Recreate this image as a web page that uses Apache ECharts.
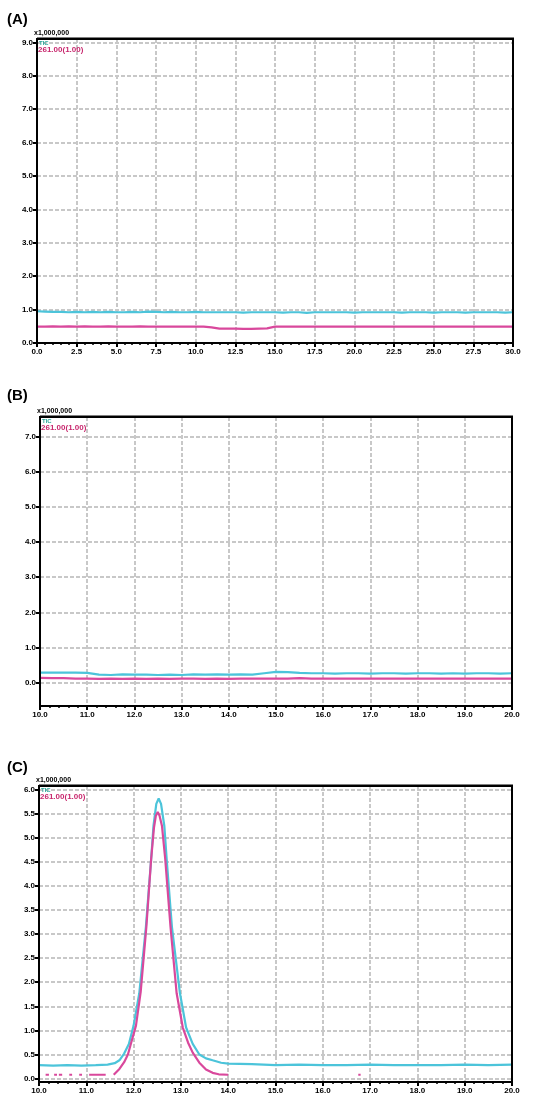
<!DOCTYPE html>
<html><head><meta charset="utf-8">
<script src="https://cdn.jsdelivr.net/npm/echarts@6/dist/echarts.min.js"></script>
<style>html,body{margin:0;padding:0;background:#fff}#c{width:543px;height:1099px}</style>
</head><body><div id="c"></div>
<script>
// ---------- Panel A ----------
const aTime = [0,0.5,1,1.5,2,2.5,3,3.5,4,4.5,5,5.5,6,6.5,7,7.5,8,8.5,9,9.5,10,10.5,11,11.5,12,12.5,13,13.5,14,14.5,15,15.5,16,16.5,17,17.5,18,18.5,19,19.5,20,20.5,21,21.5,22,22.5,23,23.5,24,24.5,25,25.5,26,26.5,27,27.5,28,28.5,29,29.5,30];
const aCyan = [0.95,0.94,0.93,0.93,0.92,0.93,0.92,0.93,0.92,0.93,0.92,0.92,0.93,0.92,0.94,0.93,0.92,0.93,0.92,0.92,0.93,0.92,0.92,0.92,0.92,0.92,0.91,0.92,0.92,0.92,0.92,0.91,0.92,0.92,0.90,0.92,0.92,0.92,0.92,0.92,0.91,0.92,0.92,0.92,0.92,0.92,0.91,0.92,0.92,0.92,0.91,0.92,0.92,0.92,0.91,0.92,0.92,0.92,0.92,0.91,0.92];
const aPink = [0.49,0.49,0.50,0.49,0.50,0.49,0.50,0.49,0.49,0.50,0.49,0.49,0.49,0.50,0.49,0.49,0.49,0.49,0.49,0.49,0.49,0.49,0.47,0.43,0.43,0.43,0.42,0.42,0.43,0.44,0.49,0.49,0.49,0.49,0.49,0.49,0.49,0.49,0.49,0.49,0.49,0.49,0.49,0.49,0.49,0.49,0.49,0.49,0.49,0.49,0.49,0.49,0.49,0.49,0.49,0.49,0.49,0.49,0.49,0.49,0.49];
const aYTicks = [0,1,2,3,4,5,6,7,8,9];

// ---------- Panel B ----------
const bTime = [10,10.25,10.5,10.75,11,11.25,11.5,11.75,12,12.25,12.5,12.75,13,13.25,13.5,13.75,14,14.25,14.5,14.75,15,15.25,15.5,15.75,16,16.25,16.5,16.75,17,17.25,17.5,17.75,18,18.25,18.5,18.75,19,19.25,19.5,19.75,20];
const bCyan = [0.29,0.29,0.29,0.29,0.28,0.23,0.22,0.24,0.23,0.23,0.22,0.23,0.22,0.24,0.23,0.24,0.23,0.24,0.23,0.27,0.31,0.30,0.28,0.27,0.27,0.26,0.27,0.27,0.26,0.27,0.27,0.26,0.27,0.27,0.26,0.27,0.26,0.27,0.27,0.26,0.27];
const bPink = [0.14,0.13,0.13,0.12,0.12,0.11,0.12,0.11,0.12,0.11,0.12,0.11,0.12,0.12,0.11,0.12,0.11,0.12,0.12,0.12,0.12,0.12,0.13,0.12,0.12,0.12,0.12,0.12,0.12,0.12,0.12,0.12,0.12,0.12,0.12,0.12,0.12,0.12,0.12,0.12,0.12];
const bYTicks = [0,1,2,3,4,5,6,7];

// ---------- Panel C ----------
const cCyanTime = [10.0,10.3,10.6,10.9,11.2,11.45,11.6,11.7,11.8,11.9,12.0,12.12,12.26,12.37,12.42,12.48,12.53,12.58,12.65,12.7,12.81,12.98,13.11,13.25,13.39,13.53,13.67,13.85,14.0,14.5,15.0,15.5,16.0,16.5,17.0,17.5,18.0,18.5,19.0,19.5,20.0];
const cCyan = [0.28,0.27,0.28,0.27,0.28,0.29,0.32,0.38,0.52,0.72,1.1,1.77,3.15,4.54,5.24,5.7,5.81,5.7,5.24,4.54,3.15,1.77,1.06,0.72,0.50,0.42,0.38,0.33,0.31,0.30,0.28,0.29,0.28,0.28,0.29,0.28,0.28,0.28,0.29,0.28,0.29];
const cPinkTime = [10.14,10.21,10.22,10.32,10.38,10.39,10.42,10.49,10.5,10.64,10.7,10.71,10.85,10.91,10.92,11.06,11.41,11.42,11.58,11.7,11.8,11.88,11.95,12.05,12.15,12.27,12.37,12.43,12.47,12.51,12.55,12.6,12.67,12.78,12.91,13.04,13.15,13.25,13.39,13.53,13.67,13.8,14.0,14.01,16.75,16.8];
const cPink = [0.08,0.08,null,0.08,0.08,null,0.08,0.08,null,0.08,0.08,null,0.08,0.08,null,0.08,0.08,null,0.08,0.2,0.34,0.5,0.75,1.1,1.8,3.15,4.54,5.2,5.45,5.53,5.45,5.24,4.54,3.15,1.77,1.06,0.75,0.54,0.33,0.19,0.12,0.09,0.08,null,0.08,0.08];
const cYTicks = [0,0.5,1,1.5,2,2.5,3,3.5,4,4.5,5,5.5,6];

const panelTitles = ['(A)','(B)','(C)'];
const scaleLabel = 'x1,000,000';
const legendNames = ['TIC','261.00(1.00)'];

const CYAN = '#4cc4da', PINK = '#d9489c';
const pairs = (xs, ys) => xs.map((x,i)=>[x, ys[i]]);

const W = 543, H = 1099;
const grids = [
  {left:37, right:30, top:39, bottom:756},
  {left:40, right:31, top:417, bottom:393},
  {left:39, right:31, top:786, bottom:17}
];
const xCfg = [
  {min:0, max:30, interval:2.5},
  {min:10, max:20, interval:1},
  {min:10, max:20, interval:1}
];
const yCfg = [
  {min:0, max:9.1, ticks:aYTicks},
  {min:-0.66, max:7.55, ticks:bYTicks},
  {min:-0.07, max:6.07, ticks:cYTicks}
];
const split = {show:true, lineStyle:{color:'#c8c8c8', width:2, type:[4,2]}};
const lbl = {color:'#000', fontWeight:'bold', fontSize:8, fontFamily:'Liberation Sans'};

const option = {
  animation:false,
  backgroundColor:'#fff',
  grid: grids.map(g=>Object.assign({show:true, borderColor:'#000', borderWidth:0, backgroundColor:'#fff'}, g)),
  xAxis: xCfg.map((c,i)=>({
    type:'value', gridIndex:i, min:c.min, max:c.max, interval:c.interval,
    axisLine:{show:true, onZero:false, lineStyle:{color:'#000', width:2}},
    axisTick:{show:true, length:4, lineStyle:{color:'#000', width:2}},
    minorTick:{show:true, splitNumber:5, length:2, lineStyle:{color:'#000', width:1.5}},
    axisLabel:Object.assign({margin:5, formatter:v=>v.toFixed(1)}, lbl),
    splitLine:split
  })),
  yAxis: yCfg.map((c,i)=>({
    type:'value', gridIndex:i, min:c.min, max:c.max,
    axisLine:{show:true, onZero:false, lineStyle:{color:'#000', width:2}},
    axisTick:{show:true, length:4, customValues:c.ticks, lineStyle:{color:'#000', width:2}},
    axisLabel:Object.assign({margin:4, customValues:c.ticks, formatter:v=>v.toFixed(1)}, lbl),
    splitLine:split
  })),
  series: [
    {type:'line', xAxisIndex:0, yAxisIndex:0, data:pairs(aTime,aCyan), color:CYAN},
    {type:'line', xAxisIndex:0, yAxisIndex:0, data:pairs(aTime,aPink), color:PINK},
    {type:'line', xAxisIndex:1, yAxisIndex:1, data:pairs(bTime,bCyan), color:CYAN},
    {type:'line', xAxisIndex:1, yAxisIndex:1, data:pairs(bTime,bPink), color:PINK},
    {type:'line', xAxisIndex:2, yAxisIndex:2, data:pairs(cCyanTime,cCyan), color:CYAN},
    {type:'line', xAxisIndex:2, yAxisIndex:2, data:pairs(cPinkTime,cPink), color:PINK, connectNulls:false}
  ].map(s=>Object.assign({showSymbol:false, symbol:'none', lineStyle:{width:2.2}, z:5, silent:true}, s)),
  graphic: []
};
const titleY = [12, 388, 760];
grids.forEach((g,i)=>{
  const w = W - g.left - g.right, h = H - g.top - g.bottom;
  // plot frame
  option.graphic.push({type:'rect', z:30, silent:true, shape:{x:g.left, y:g.top, width:w, height:h}, style:{fill:null, stroke:'#000', lineWidth:2}});
  option.graphic.push({type:'line', z:30, silent:true, shape:{x1:g.left, y1:g.top-0.5, x2:g.left+w+1, y2:g.top-0.5}, style:{stroke:'#000', lineWidth:2}});
  option.graphic.push({type:'text', x:7, y:titleY[i], style:{text:panelTitles[i], fill:'#000', font:'bold 15px Liberation Sans'}});
  option.graphic.push({type:'text', x:g.left-3, y:g.top-9, style:{text:scaleLabel, fill:'#000', font:'bold 7px Liberation Sans'}});
  option.graphic.push({type:'text', x:g.left+2, y:g.top+1, z:40, style:{text:legendNames[0], fill:'#2aa89a', font:'bold 6px Liberation Sans'}});
  option.graphic.push({type:'text', x:g.left+1, y:g.top+7, z:40, style:{text:legendNames[1], fill:'#c8286e', font:'bold 8px Liberation Sans'}});
});
const chart = echarts.init(document.getElementById('c'), null, {renderer:'canvas'});
chart.setOption(option);
</script></body></html>
